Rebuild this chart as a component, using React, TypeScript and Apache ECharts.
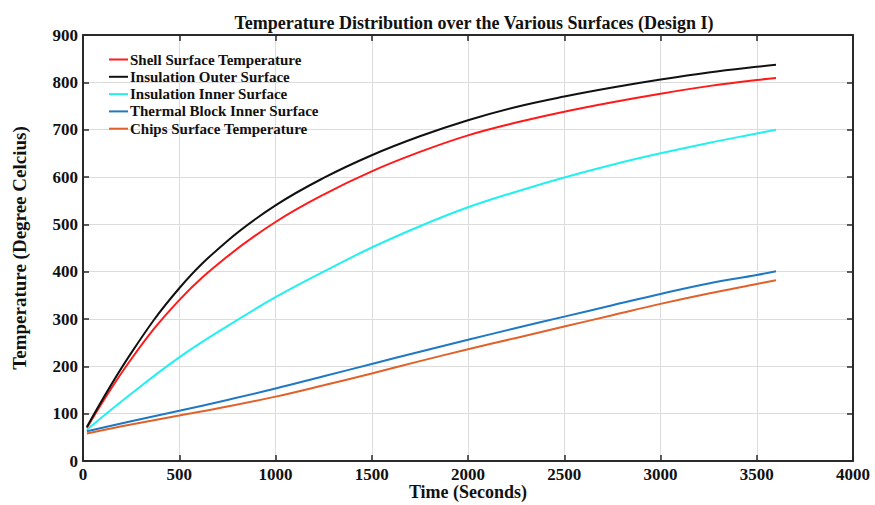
import React, { useEffect, useRef } from "react";
import * as echarts from "echarts";

const times = [20, 250, 500, 750, 1000, 1250, 1500, 1750, 2000, 2250, 2500, 2750, 3000, 3250, 3500, 3600];
const shellSurface = [70, 215, 340, 432, 505, 563, 612, 653, 688, 715, 738, 758, 776, 792, 805, 809];
const insulationOuter = [72, 228, 365, 465, 540, 598, 646, 686, 720, 748, 770, 789, 806, 821, 833, 837];
const insulationInner = [66, 142, 219, 285, 346, 400, 451, 496, 536, 569, 599, 626, 650, 672, 692, 700];
const thermalBlockInner = [63, 84, 106, 129, 153, 179, 205, 231, 256, 281, 305, 329, 353, 375, 393, 401];
const chipsSurface = [58, 77, 96, 115, 136, 160, 185, 211, 236, 260, 284, 308, 332, 354, 374, 382];

const seriesNames = [
  "Shell Surface Temperature",
  "Insulation Outer Surface",
  "Insulation Inner Surface",
  "Thermal Block Inner Surface",
  "Chips Surface Temperature",
];
const seriesValues = [shellSurface, insulationOuter, insulationInner, thermalBlockInner, chipsSurface];
const seriesColors = ["#FF1A1A", "#111111", "#22F0F0", "#1F78C4", "#E0622A"];

const FONT = "'Liberation Serif', 'Times New Roman', serif";
const AXIS_COLOR = "#2a2a2a";

export default function App() {
  const ref = useRef<HTMLDivElement>(null);
  useEffect(() => {
    if (!ref.current) return;
    const chart = echarts.init(ref.current, undefined, { renderer: "svg" });
    const axisCommon = {
      axisLine: { show: true, onZero: false, lineStyle: { color: AXIS_COLOR, width: 2 } },
      axisTick: { show: true, inside: true, length: 6, lineStyle: { color: AXIS_COLOR, width: 1.5 } },
    };
    const labelStyle = {
      fontFamily: FONT,
      fontWeight: "bold",
      fontSize: 17,
      color: "#111",
      margin: 5,
      formatter: (v: number) => String(v),
    };
    chart.setOption({
      animation: false,
      backgroundColor: "#ffffff",
      title: {
        text: "Temperature Distribution over the Various Surfaces (Design I)",
        left: 469,
        textAlign: "center",
        top: 9,
        textStyle: { fontFamily: FONT, fontWeight: "bold", fontSize: 18, color: "#111" },
      },
      legend: {
        orient: "vertical",
        left: 109,
        top: 52,
        icon: "rect",
        itemWidth: 19,
        itemHeight: 2,
        itemGap: 2.3,
        padding: 0,
        data: seriesNames,
        textStyle: {
          fontFamily: FONT,
          fontWeight: "bold",
          fontSize: 15,
          lineHeight: 15,
          height: 15,
          color: "#111",
          padding: [0, 0, 0, -3],
        },
      },
      grid: { left: 83, right: 22, top: 35, bottom: 44, containLabel: false, outerBoundsMode: "none" },
      xAxis: [
        {
          type: "value",
          min: 0,
          max: 4000,
          interval: 500,
          position: "bottom",
          name: "Time (Seconds)",
          nameLocation: "middle",
          nameGap: 22,
          nameMoveOverlap: false,
          nameTextStyle: { fontFamily: FONT, fontWeight: "bold", fontSize: 18, lineHeight: 18, color: "#111" },
          axisLabel: labelStyle,
          splitLine: { show: true, lineStyle: { color: "#dcdcdc", width: 1 } },
          ...axisCommon,
        },
        {
          type: "value",
          min: 0,
          max: 4000,
          interval: 500,
          position: "top",
          axisLabel: { show: false },
          splitLine: { show: false },
          ...axisCommon,
        },
      ],
      yAxis: [
        {
          type: "value",
          min: 0,
          max: 900,
          interval: 100,
          position: "left",
          name: "Temperature (Degree Celcius)",
          nameLocation: "middle",
          nameGap: 54,
          nameTextStyle: { fontFamily: FONT, fontWeight: "bold", fontSize: 19, color: "#111" },
          axisLabel: labelStyle,
          splitLine: { show: true, lineStyle: { color: "#dcdcdc", width: 1 } },
          ...axisCommon,
        },
        {
          type: "value",
          min: 0,
          max: 900,
          interval: 100,
          position: "right",
          axisLabel: { show: false },
          splitLine: { show: false },
          ...axisCommon,
        },
      ],
      series: seriesNames.map((name, i) => ({
        name,
        type: "line",
        xAxisIndex: 0,
        yAxisIndex: 0,
        smooth: 0.4,
        symbol: "none",
        showSymbol: false,
        lineStyle: { color: seriesColors[i], width: 2 },
        itemStyle: { color: seriesColors[i] },
        data: times.map((t, j) => [t, seriesValues[i][j]]),
      })),
    });
    return () => chart.dispose();
  }, []);
  return <div ref={ref} style={{ width: 875, height: 505, position: "absolute", left: 0, top: 0 }} />;
}
